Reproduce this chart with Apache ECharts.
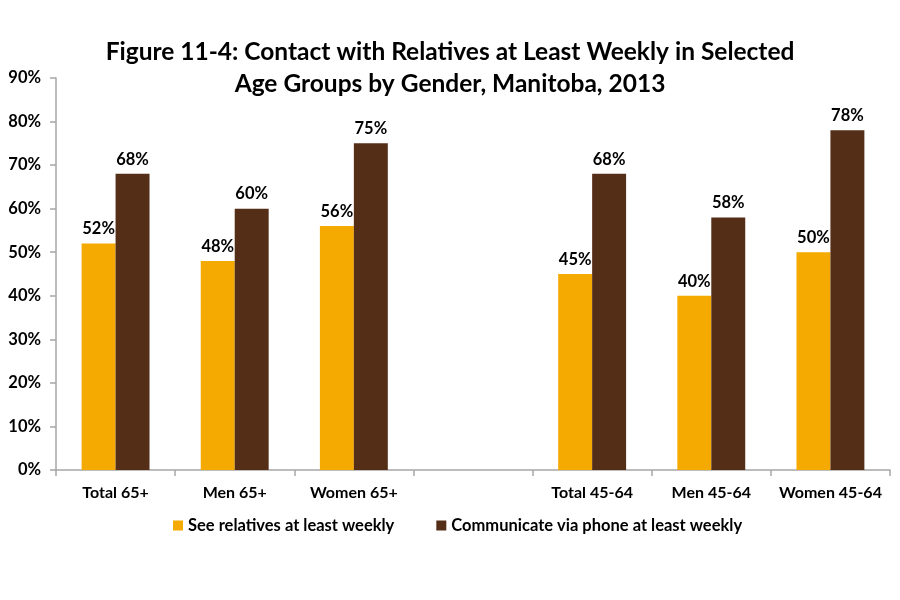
<!DOCTYPE html>
<html><head><meta charset="utf-8">
<script src="https://cdn.jsdelivr.net/npm/echarts@6/dist/echarts.min.js"></script>
<style>html,body{margin:0;padding:0;background:#fff}#c{width:900px;height:600px}</style>
</head><body><div id="c"></div>
<script>
const categories = ['Total 65+', 'Men 65+', 'Women 65+', '', 'Total 45-64', 'Men 45-64', 'Women 45-64'];
const seeRelatives = [52, 48, 56, '-', 45, 40, 50];
const phoneContact = [68, 60, 75, '-', 68, 58, 78];
const yTicks = [0, 10, 20, 30, 40, 50, 60, 70, 80, 90];
const seriesNames = ['See relatives at least weekly', 'Communicate via phone at least weekly'];

const FONT = 'Lato';
const chart = echarts.init(document.getElementById('c'));
const labelCfg = {show: true, position: 'top', formatter: '{c}%', color: '#000', fontFamily: FONT, fontWeight: 'bold', fontSize: 16.5, distance: 6};
chart.setOption({
  animation: false,
  title: {
    text: 'Figure 11-4: Contact with Relatives at Least Weekly in Selected\nAge Groups by Gender, Manitoba, 2013',
    left: 'center', top: 31,
    textStyle: {fontFamily: FONT, fontWeight: 'bold', fontSize: 24.5, lineHeight: 32, color: '#000'}
  },
  legend: {
    top: 512, left: 168, itemWidth: 10, itemHeight: 10, itemGap: 42, icon: 'rect',
    textStyle: {fontFamily: FONT, fontWeight: 'bold', fontSize: 16.5, color: '#000'},
    data: seriesNames
  },
  grid: {left: 56, right: 10, top: 78, bottom: 130, containLabel: false},
  xAxis: {
    type: 'category', data: categories,
    axisLine: {lineStyle: {color: '#a6a6a6', width: 1.5}},
    axisTick: {show: true, alignWithLabel: false, length: 6, lineStyle: {color: '#a6a6a6', width: 1.5}},
    axisLabel: {color: '#000', fontFamily: FONT, fontWeight: 'bold', fontSize: 16, margin: 15, interval: 0}
  },
  yAxis: {
    type: 'value', min: yTicks[0], max: yTicks[yTicks.length - 1], interval: 10,
    axisLine: {show: true, lineStyle: {color: '#a6a6a6', width: 1.5}},
    axisTick: {show: true, length: 6, lineStyle: {color: '#a6a6a6', width: 1.5}},
    splitLine: {show: false},
    axisLabel: {formatter: '{value}%', color: '#000', fontFamily: FONT, fontWeight: 'bold', fontSize: 16.5, margin: 15}
  },
  series: [
    {name: seriesNames[0], type: 'bar', data: seeRelatives, barGap: '0%', barCategoryGap: '43%',
     itemStyle: {color: '#f4aa00'}, label: labelCfg},
    {name: seriesNames[1], type: 'bar', data: phoneContact, barGap: '0%', barCategoryGap: '43%',
     itemStyle: {color: '#552e18'}, label: labelCfg}
  ]
});
</script></body></html>
